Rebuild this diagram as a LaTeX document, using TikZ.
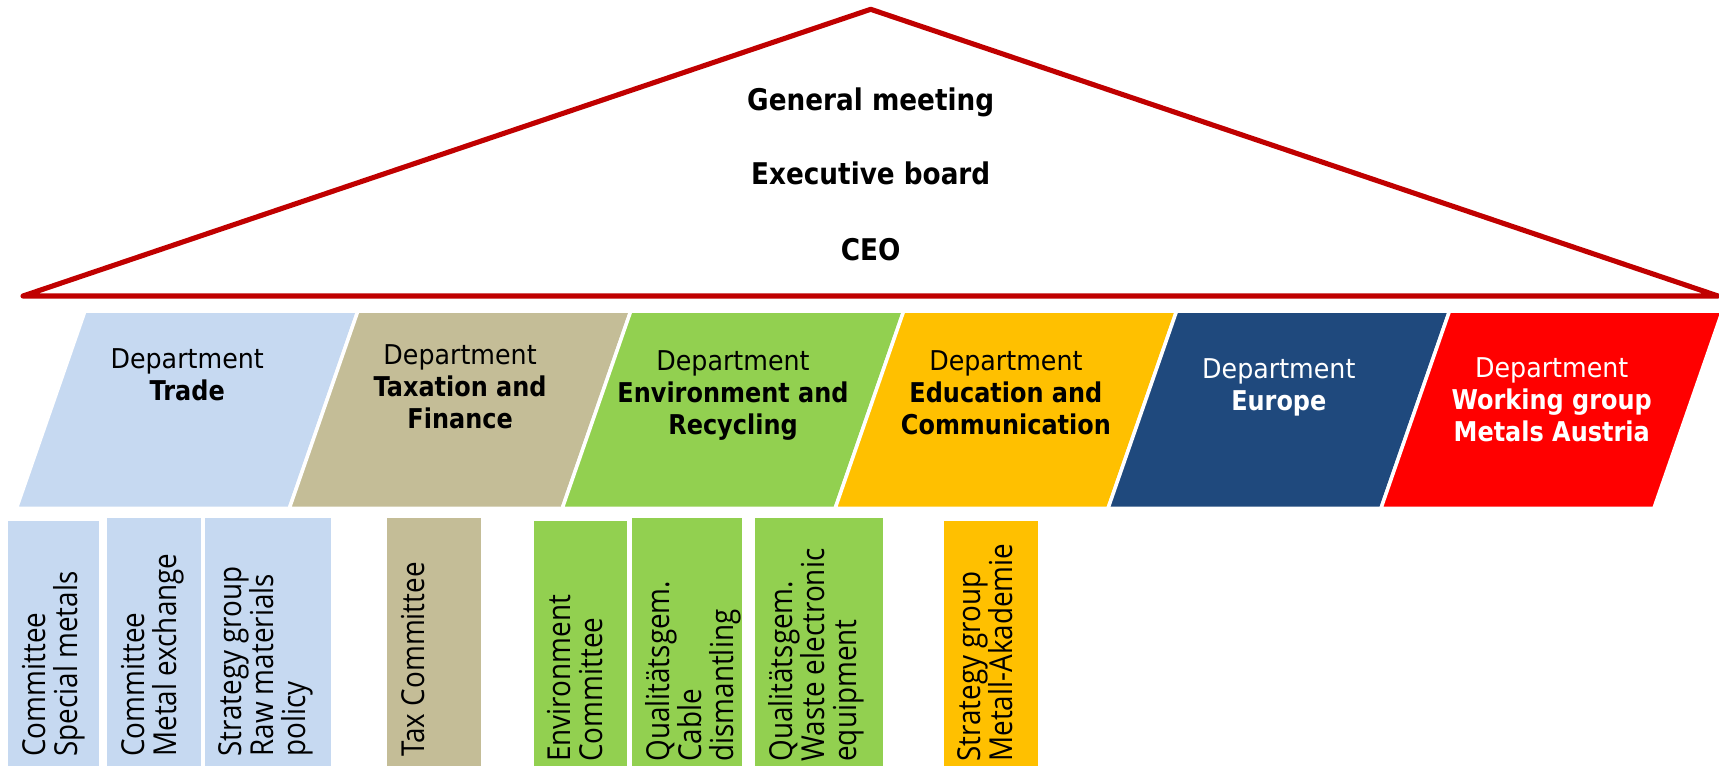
\documentclass[tikz,border=0pt]{standalone}
\usepackage{fontspec}
\setmainfont{DejaVu Sans}[FakeStretch=0.93,BoldFeatures={FakeStretch=0.88}]
\newfontfamily\boxfont{Open Sans}[FakeStretch=0.88]

\definecolor{roofred}{HTML}{C00000}
\definecolor{tradeblue}{HTML}{C6D9F1}
\definecolor{taxtan}{HTML}{C4BD97}
\definecolor{envgreen}{HTML}{92D050}
\definecolor{eduorange}{HTML}{FFC000}
\definecolor{europeblue}{HTML}{1F497D}
\definecolor{metalsred}{HTML}{FF0000}

\tikzset{
  board/.style={anchor=base, inner sep=0pt, font=\fontsize{17}{20}\selectfont\bfseries},
  dept/.style={anchor=north, inner sep=0pt, align=center, font=\fontsize{15.5}{18.2}\selectfont},
  cbox/.style={anchor=north west, rotate=90, inner sep=0pt, align=left, font=\boxfont\fontsize{18}{18.2}\selectfont},
}

\begin{document}
\begin{tikzpicture}[x=0.02cm, y=-0.02cm]
                  \useasboundingbox (0,0) rectangle (1719,766);

                  % Define coordinates of the roof
                  \coordinate (L) at (23,296);
                  \coordinate (T) at (870.7,9.3);
                  \coordinate (R) at (1718,296);

                  % Draw the roof
                  \draw[roofred, line width=2.9pt, line join=round, fill=white] (L) -- (T) -- (R) -- cycle;
                  \node[board] (meeting) at (870.7,110.8) {General meeting};
                  \node[board] (exboard) at (870.7,184.2) {Executive board};
                  \node[board] (ceo) at (870.7,261) {CEO};

                  % Draw the departments
                  \foreach \c [count=\i from 0] in {tradeblue,taxtan,envgreen,eduorange,europeblue,metalsred}
                    \fill[\c, draw=white, line width=2pt] ({85+272.9*\i},311) -- ++(272.9,0) -- ++(-68.6,197.5) -- ++(-272.9,0) -- cycle;

                  \node[dept] (trade) at (187.2,348.3) {Department\\\textbf{Trade}};
                  \node[dept] (taxation) at (460.1,344) {Department\\\textbf{Taxation and}\\\textbf{Finance}};
                  \node[dept] (environment) at (733,350.5) {Department\\\textbf{Environment and}\\\textbf{Recycling}};
                  \node[dept] (education) at (1005.9,350.5) {Department\\\textbf{Education and}\\\textbf{Communication}};
                  \node[dept, white] (europe) at (1278.8,358) {Department\\\textbf{Europe}};
                  \node[dept, white] (metals) at (1551.7,357.3) {Department\\\textbf{Working group}\\\textbf{Metals Austria}};

                  % Draw the committees
                  \fill[tradeblue] (8,521) rectangle (99,766);
                  \node[cbox] (special) at (21.5,757) {Committee\\Special metals};
                  \fill[tradeblue] (107.3,518) rectangle (201,766);
                  \node[cbox] (exchange) at (120.5,757) {Committee\\Metal exchange};
                  \fill[tradeblue] (205,518) rectangle (330.7,766);
                  \node[cbox] (rawmat) at (218.5,757) {Strategy group\\Raw materials\\policy};
                  \fill[taxtan] (387,518) rectangle (481,766);
                  \node[cbox] (taxcom) at (400.5,757) {Tax Committee};
                  \fill[envgreen] (534,521) rectangle (627,766);
                  \node[cbox] (envcom) at (546.5,762) {Environment\\Committee};
                  \fill[envgreen] (632,518) rectangle (742,766);
                  \node[cbox] (cable) at (645.5,762) {Qualitätsgem.\\Cable\\dismantling};
                  \fill[envgreen] (755,518) rectangle (883,766);
                  \node[cbox] (waste) at (768.5,762) {Qualitätsgem.\\Waste electronic\\equipment};
                  \fill[eduorange] (944,521) rectangle (1038,766);
                  \node[cbox] (akademie) at (957,762) {Strategy group\\Metall-Akademie};

              \end{tikzpicture}
\end{document}
